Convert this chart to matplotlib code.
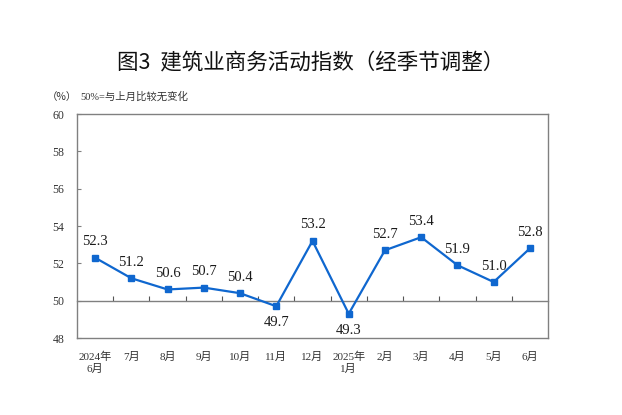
import matplotlib
matplotlib.use("Agg")
import matplotlib.pyplot as plt
import numpy as np

plt.rcParams['font.family'] = ['Liberation Serif', 'Noto Sans CJK SC', 'DejaVu Sans']

months = ["2024年\n6月", "7月", "8月", "9月", "10月", "11月", "12月",
          "2025年\n1月", "2月", "3月", "4月", "5月", "6月"]
values = [52.3, 51.2, 50.6, 50.7, 50.4, 49.7, 53.2, 49.3, 52.7, 53.4, 51.9, 51.0, 52.8]
yticks = [48, 50, 52, 54, 56, 58, 60]
baseline = 50

title = "图3  建筑业商务活动指数（经季节调整）"
unit = "（%）"
note = "50%=与上月比较无变化"

line_color = "#0f67cf"
spine_color = "#808080"

fig = plt.figure(figsize=(6.22, 4.15), dpi=100)
ax = fig.add_axes([77/622, 1-338/415, 471/622, 224/415])

x = np.arange(len(values))
ax.plot(x, values, color=line_color, lw=1.6, marker='s', ms=4.5,
        markerfacecolor=line_color, markeredgecolor=line_color, zorder=3)

for xi, v in zip(x, values):
    dy = -12 if v < baseline else 11.5
    ax.annotate(f"{v:.1f}", (xi, v), xytext=(0, dy), textcoords='offset points',
                ha='center', va='center', fontsize=10.5, color='#1a1a1a',
                family=['Liberation Serif'])

ax.set_xlim(-0.5, len(values) - 0.5)
ax.set_ylim(yticks[0], yticks[-1])
ax.set_yticks(yticks)
ax.set_yticklabels([str(t) for t in yticks], fontsize=8.5, color='#333333')
ax.tick_params(axis='y', direction='in', length=3, width=0.8, color=spine_color, pad=9)
ax.set_xticks(x)
ax.set_xticklabels(months, fontsize=8, color='#333333', linespacing=1.25)
ax.tick_params(axis='x', length=0, pad=10)
for s in ax.spines.values():
    s.set_color(spine_color)
    s.set_linewidth(1.0)

# baseline at 50 with boundary ticks pointing up
loc = (baseline - yticks[0]) / (yticks[-1] - yticks[0])
sec = ax.secondary_xaxis(loc)
sec.set_xticks(x[:-1] + 0.5)
sec.set_xticklabels([])
sec.tick_params(direction='in', length=3.5, width=0.8, color='#555555')
sec.spines['bottom'].set_color(spine_color)
sec.spines['bottom'].set_linewidth(1.0)

fig.text(0.5, 1-62/415, title, ha='center', va='center', fontsize=15.5,
         family=['Noto Sans CJK SC'], color='#111111')
fig.text(47/622, 1-97/415, unit, ha='left', va='center', fontsize=7.5,
         family=['Noto Sans CJK SC'], color='#333333')
fig.text(80/622, 1-97/415, note, ha='left', va='center', fontsize=7.5,
         family=['Liberation Serif', 'Noto Sans CJK SC'], color='#333333')

fig.savefig("out.png", dpi=100)
